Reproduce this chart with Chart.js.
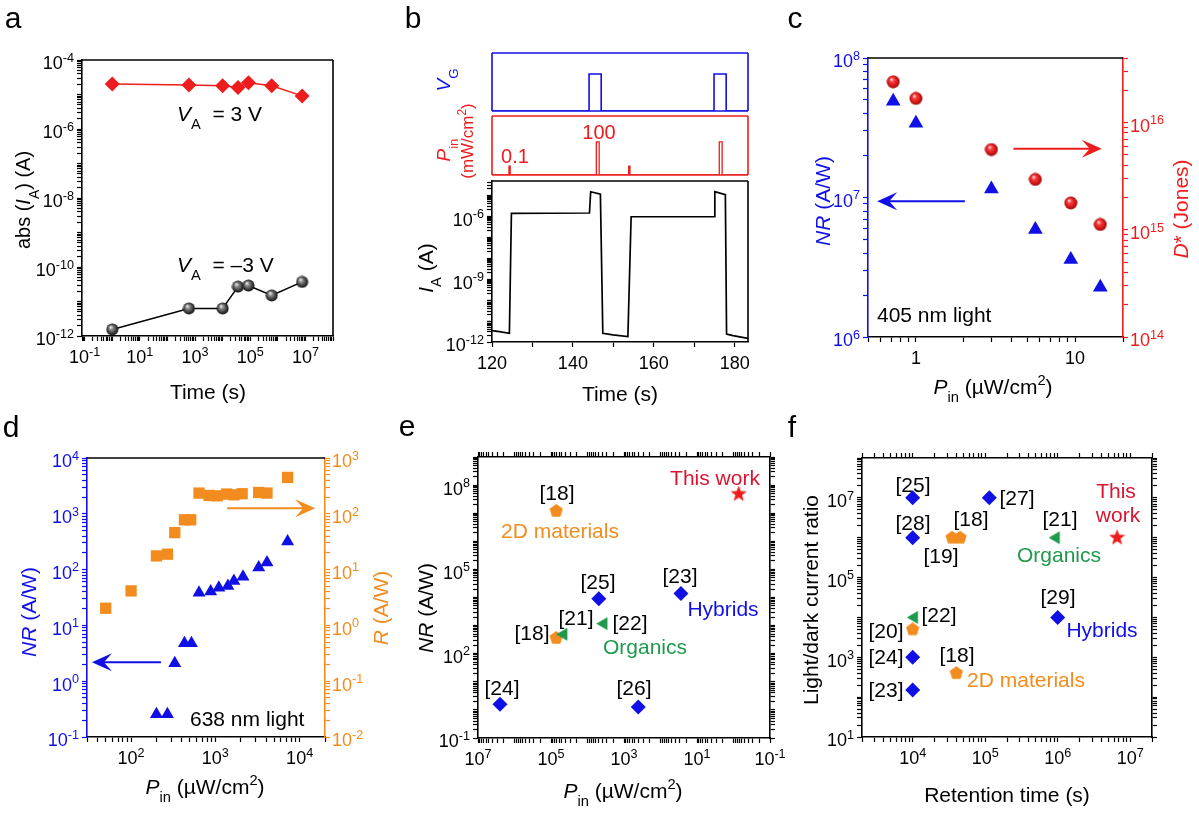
<!DOCTYPE html>
<html>
<head>
<meta charset="utf-8">
<title>Photomemory figure</title>
<script src="https://cdn.jsdelivr.net/npm/chart.js"></script>
<style>
  html, body { margin: 0; padding: 0; background: #fff; }
  #fig { position: relative; width: 1199px; height: 816px; overflow: hidden; background: #fff; }
  #fig canvas { position: absolute; }
</style>
</head>
<body>
<div id="fig"></div>
<script>
// ---- values ----
// a: retention of the on / off states
const retTime = [1, 600, 1e4, 3.6e4, 8.6e4, 6e5, 7.6e6];
const iOn = [2.0e-5, 1.9e-5, 1.8e-5, 1.6e-5, 2.2e-5, 1.8e-5, 9.1e-6];
const iOff = [1.55e-12, 6.3e-12, 6.3e-12, 2.7e-11, 2.9e-11, 1.5e-11, 3.7e-11];
const aXTicks = [0.1, 10, 1e3, 1e5, 1e7];
const aYTicks = [1e-12, 1e-10, 1e-8, 1e-6, 1e-4];

// b: gate pulses, light pulses and the anode current trace
const vgTime = [120, 144.0, 147.0, 174.9, 177.9, 183.3];
const vgLevel = [0, 1, 0, 1, 0, 0];
const pinTime = [120, 124.2, 124.5, 145.8, 146.5, 153.8, 154.1, 176.2, 176.9, 183.3];
const pinLevel = [0, 0.15, 0, 0.56, 0, 0.15, 0, 0.56, 0, 0];
const traceTime = [120, 121.8, 124.3, 124.8, 144.1, 144.4, 146.8, 147.4, 149.9, 153.6, 154.4, 174.9, 175.1, 177.7, 178.0, 179.6, 183.3];
const traceI = [3.5e-12, 3.1e-12, 2.6e-12, 1.35e-6, 1.4e-6, 1.45e-5, 1.1e-5, 2.6e-12, 2.2e-12, 1.8e-12, 9.3e-7, 9.5e-7, 1.45e-5, 1.05e-5, 2.4e-12, 2.0e-12, 1.5e-12];
const bXTicks = [120, 140, 160, 180];
const bYTicks = [1e-12, 1e-9, 1e-6];

// c: 405 nm light
const pinC = [0.72, 1.0, 2.98, 5.63, 9.4, 14.4];
const nrC = [4.9e7, 3.4e7, 1.15e7, 5.9e6, 3.6e6, 2.27e6];
const dStarC = [2.4e16, 1.68e16, 5.6e15, 2.95e15, 1.78e15, 1.12e15];
const cXTicks = [1, 10];
const cYTicks = [1e6, 1e7, 1e8];
const cY2Ticks = [1e14, 1e15, 1e16];

// d: 638 nm light
const pinDR = [50, 100, 200, 270, 330, 430, 510, 640, 840, 1050, 1360, 1660, 2080, 3270, 4100, 7200];
const rD = [2.03, 4.15, 17.6, 18.9, 46, 78, 78, 235, 213, 210, 226, 219, 229, 241, 235, 449];
const pinDNR = [200, 270, 330, 430, 520, 640, 880, 1100, 1410, 1660, 2130, 3270, 4100, 7200];
const nrD = [0.257, 0.257, 2.09, 4.77, 4.77, 38.6, 40.3, 47.5, 51, 62.7, 74.8, 109, 134, 318];
const dXTicks = [100, 1e3, 1e4];
const dYTicks = [0.1, 1, 10, 100, 1e3, 1e4];
const dY2Ticks = [0.01, 0.1, 1, 10, 100, 1e3];

// e: NR vs P_in comparison
const eHybP = [4.9e3, 27.5, 2.5e6, 407];
const eHybNR = [9.1e3, 1.4e4, 1.58, 1.26];
const e2dP = [7.2e4, 7.2e4];
const e2dNR = [1.2e7, 363];
const eOrgP = [4.5e4, 3.6e3];
const eOrgNR = [490, 1.17e3];
const eOursP = [0.72];
const eOursNR = [4.8e7];
const eXTicks = [1e7, 1e5, 1e3, 10, 0.1];
const eYTicks = [0.1, 100, 1e5, 1e8];

// f: on/off ratio vs retention comparison
const fHybT = [1e4, 1.14e5, 1e4, 1e6, 1e4, 1e4];
const fHybR = [1e7, 1e7, 1e6, 1e4, 1e3, 150];
const f2dT = [4.5e4, 3.5e4, 1e4, 4e4];
const f2dR = [1e6, 1e6, 5e3, 400];
const fOrgT = [9.5e5, 1.05e4];
const fOrgR = [1e6, 1e4];
const fOursT = [6.6e6];
const fOursR = [1e6];
const fXTicks = [1e4, 1e5, 1e6, 1e7];
const fYTicks = [10, 1e3, 1e5, 1e7];

// ---- styling ----
const FONT = '"Liberation Sans", Arial, Helvetica, sans-serif';
const BLUE = '#1010e6', RED = '#ee1c1c', CRIMSON = '#dc1430', ORANGE = '#f28c1e', GREEN = '#1f9a4c', BLACK = '#000000';
const fig = document.getElementById('fig');
const DECO = {};

const pts = (xs, ys) => xs.map((x, i) => ({ x, y: ys[i] }));

// text with italic / sub / sup runs; y is the centre of the capitals
function drawRich(ctx, t) {
  const S = t.size || 21;
  const parts = t.runs.map(r => Array.isArray(r) ? { s: r[0], f: r[1] } : { s: r, f: '' });
  const font = p => (p.f === 'it' ? 'italic ' : '') + ((p.f === 'sub' || p.f === 'sup') ? S * 0.7 : S) + 'px ' + FONT;
  ctx.save();
  ctx.translate(t.x, t.y);
  if (t.rot) ctx.rotate(t.rot * Math.PI / 180);
  let w = 0;
  parts.forEach(p => { ctx.font = font(p); p.w = ctx.measureText(p.s).width; w += p.w; });
  let x = t.align === 'left' ? 0 : t.align === 'right' ? -w : -w / 2;
  ctx.fillStyle = t.color || BLACK;
  ctx.textAlign = 'left';
  ctx.textBaseline = 'alphabetic';
  const base = S * 0.36;
  parts.forEach(p => {
    ctx.font = font(p);
    const dy = p.f === 'sub' ? S * 0.42 : p.f === 'sup' ? -S * 0.43 : 0;
    ctx.fillText(p.s, x, base + dy);
    x += p.w;
  });
  ctx.restore();
}

function drawArrow(ctx, x1, y1, x2, y2, col) {
  const ang = Math.atan2(y2 - y1, x2 - x1), L = 20, W = 9;
  ctx.save();
  ctx.strokeStyle = col; ctx.fillStyle = col; ctx.lineWidth = 2;
  ctx.beginPath();
  ctx.moveTo(x1, y1);
  ctx.lineTo(x2 - L * 0.5 * Math.cos(ang), y2 - L * 0.5 * Math.sin(ang));
  ctx.stroke();
  ctx.translate(x2, y2); ctx.rotate(ang);
  ctx.beginPath();
  ctx.moveTo(0, 0); ctx.lineTo(-L, -W); ctx.lineTo(-L * 0.6, 0); ctx.lineTo(-L, W);
  ctx.closePath(); ctx.fill();
  ctx.restore();
}

// small marker images for the shapes Chart.js has no built-in style for
function sprite(kind, color, size, dark) {
  const c = document.createElement('canvas');
  c.width = c.height = size;
  const g = c.getContext('2d');
  const r = size / 2;
  g.beginPath();
  if (kind === 'ball') {
    const grad = g.createRadialGradient(r * 0.72, r * 0.62, 0, r, r, r);
    grad.addColorStop(0, '#ffffff');
    grad.addColorStop(0.32, color);
    grad.addColorStop(1, dark);
    g.fillStyle = grad;
    g.arc(r, r, r - 0.5, 0, Math.PI * 2);
  } else {
    g.fillStyle = color;
    const n = kind === 'star' ? 10 : kind === 'pent' ? 5 : 3;
    for (let k = 0; k < n; k++) {
      let a, rr = r;
      if (kind === 'left') a = Math.PI + k * 2 * Math.PI / 3;
      else { a = -Math.PI / 2 + k * 2 * Math.PI / n; if (kind === 'star' && k % 2) rr = r * 0.42; }
      const px = r + rr * Math.cos(a), py = r + rr * Math.sin(a);
      if (k) g.lineTo(px, py); else g.moveTo(px, py);
    }
    g.closePath();
  }
  g.fill();
  return c;
}
const blackBall = sprite('ball', '#8a8a8a', 13, '#000000');
const redBall = sprite('ball', '#ff3a3a', 14, '#a00000');
const pent = sprite('pent', ORANGE, 14);
const star = sprite('star', RED, 17);
const leftTri = sprite('left', GREEN, 15);

function logTicks(min, max) {
  const out = [];
  for (let e = Math.floor(Math.log10(min)); e <= Math.ceil(Math.log10(max)); e++) {
    for (let m = 1; m <= 9; m++) {
      const v = m * Math.pow(10, e);
      if (v >= min * 0.9999 && v <= max * 1.0001) out.push({ value: v, major: m === 1 });
    }
  }
  return out;
}

function axis(type, position, min, max, color, opts = {}) {
  return {
    type, position, min, max, reverse: !!opts.reverse,
    afterBuildTicks: sc => {
      if (type === 'logarithmic') sc.ticks = logTicks(min, max);
      else { const t = []; for (let v = min; v <= max + 1e-9; v += opts.step) t.push({ value: v }); sc.ticks = t; }
    },
    ticks: { display: false },
    grid: { drawOnChartArea: false, drawTicks: true, tickLength: 5, tickColor: color, tickWidth: 1.2 },
    border: { display: true, color, width: 1.6 }
  };
}

const decoPlugin = {
  id: 'deco',
  afterDraw(chart) {
    const d = DECO[chart.canvas.id];
    if (!d) return;
    const ctx = chart.ctx, A = chart.chartArea;
    ctx.save();
    ctx.lineWidth = 1.6;
    Object.entries(d.frame || {}).forEach(([side, col]) => {
      ctx.strokeStyle = col;
      ctx.beginPath();
      if (side === 'top') { ctx.moveTo(A.left, A.top); ctx.lineTo(A.right, A.top); }
      if (side === 'bottom') { ctx.moveTo(A.left, A.bottom); ctx.lineTo(A.right, A.bottom); }
      if (side === 'left') { ctx.moveTo(A.left, A.top); ctx.lineTo(A.left, A.bottom); }
      if (side === 'right') { ctx.moveTo(A.right, A.top); ctx.lineTo(A.right, A.bottom); }
      ctx.stroke();
    });
    (d.labels || []).forEach(L => {
      const sc = chart.scales[L.axis];
      L.values.forEach(v => {
        const p = sc.getPixelForValue(v);
        const runs = L.pow ? ['10', [String(Math.round(Math.log10(v))), 'sup']] : [String(v)];
        const t = { runs, size: 18, color: L.color || BLACK };
        if (L.side === 'bottom') Object.assign(t, { x: p, y: A.bottom + 21 });
        else if (L.side === 'left') Object.assign(t, { x: A.left - 8, y: p + (L.pow ? 3 : 0), align: 'right' });
        else Object.assign(t, { x: A.right + 7, y: p + (L.pow ? 3 : 0), align: 'left' });
        drawRich(ctx, t);
      });
    });
    (d.arrows || []).forEach(ar => {
      const sx = chart.scales[ar.x], sy = chart.scales[ar.y];
      drawArrow(ctx, sx.getPixelForValue(ar.from[0]), sy.getPixelForValue(ar.from[1]),
        sx.getPixelForValue(ar.to[0]), sy.getPixelForValue(ar.to[1]), ar.color);
    });
    ctx.translate(-d.left, -d.top);
    (d.texts || []).forEach(t => drawRich(ctx, t));
    ctx.restore();
  }
};
Chart.register(decoPlugin);

// cv = [left, top, width, height] of the canvas, area = [l, t, r, b] of the plot box, both in page pixels
function panel(id, cv, area, scales, datasets, deco) {
  const canvas = document.createElement('canvas');
  canvas.id = id;
  canvas.width = cv[2]; canvas.height = cv[3];
  canvas.style.left = cv[0] + 'px'; canvas.style.top = cv[1] + 'px';
  fig.appendChild(canvas);
  const gap = { left: area[0] - cv[0], top: area[1] - cv[1], right: cv[0] + cv[2] - area[2], bottom: cv[1] + cv[3] - area[3] };
  const pad = Object.assign({}, gap);
  Object.values(scales).forEach(s => {
    if (s.display === false) return;
    const side = s.position, size = gap[side];
    pad[side] = 0;
    s.afterFit = sc => { if (side === 'top' || side === 'bottom') sc.height = size; else sc.width = size; };
  });
  DECO[id] = Object.assign({ left: cv[0], top: cv[1] }, deco);
  return new Chart(canvas, {
    type: 'scatter',
    data: { datasets },
    options: {
      responsive: false, animation: false, events: [],
      layout: { padding: pad },
      plugins: { legend: { display: false }, tooltip: { enabled: false } },
      scales
    }
  });
}

const mark = (xs, ys, style, color, radius, extra) => Object.assign({
  data: pts(xs, ys), showLine: false, pointStyle: style, pointRadius: radius,
  pointBackgroundColor: color, pointBorderColor: color, pointBorderWidth: 0
}, extra || {});
const note = ([text, x, y, color]) => ({ runs: [text], x, y, color: color || BLACK });
const pinTitle = (x, y) => ({ runs: [['P', 'it'], ['in', 'sub'], ' (\u00b5W/cm', ['2', 'sup'], ')'], x, y });

// ---- a ----
panel('pa', [0, 0, 400, 410], [82, 60, 333, 336], {
  x: axis('logarithmic', 'bottom', 0.08, 1e8, BLACK),
  y: axis('logarithmic', 'left', 1e-12, 1e-4, BLACK)
}, [
  { data: pts(retTime, iOn), showLine: true, borderColor: RED, borderWidth: 1.5, pointStyle: 'rectRot', pointRadius: 7.5, pointBackgroundColor: RED, pointBorderWidth: 0 },
  { data: pts(retTime, iOff), showLine: true, borderColor: BLACK, borderWidth: 1.5, pointStyle: blackBall, pointRadius: 6 }
], {
  frame: { top: BLACK, right: BLACK },
  labels: [
    { axis: 'x', side: 'bottom', values: aXTicks, pow: true },
    { axis: 'y', side: 'left', values: aYTicks, pow: true }
  ],
  texts: [
    { runs: ['a'], x: 13, y: 17, size: 30 },
    { runs: [['V', 'it'], ['A', 'sub'], '  = 3 V'], x: 177, y: 113, align: 'left' },
    { runs: [['V', 'it'], ['A', 'sub'], '  = \u20133 V'], x: 177, y: 264, align: 'left' },
    { runs: ['abs (', ['I', 'it'], ['A', 'sub'], ') (A)'], x: 23, y: 200, rot: -90, size: 20 },
    { runs: ['Time (s)'], x: 208, y: 391 }
  ]
});

// ---- b ----
panel('pb1', [400, 0, 380, 195], [492, 53, 748, 111], {
  x: { type: 'linear', min: 120, max: 183.3, display: false },
  y: { type: 'linear', min: 0, max: 1.57, display: false }
}, [
  { data: pts(vgTime, vgLevel), showLine: true, stepped: true, borderColor: BLUE, borderWidth: 1.6, pointRadius: 0 }
], {
  frame: { top: BLUE, right: BLUE, bottom: BLUE, left: BLUE },
  texts: [
    { runs: ['b'], x: 413, y: 17, size: 30 },
    { runs: [['V', 'it'], ['G', 'sub']], x: 443, y: 80, rot: -90, color: BLUE, size: 19 },
    { runs: [['P', 'it'], ['in', 'sub']], x: 443, y: 150, rot: -90, color: RED, size: 19 },
    { runs: ['(mW/cm', ['2', 'sup'], ')'], x: 467, y: 141, rot: -90, color: RED, size: 17 },
    { runs: ['100'], x: 599, y: 132, color: RED, size: 20 },
    { runs: ['0.1'], x: 515, y: 156, color: RED, size: 20 }
  ]
});
panel('pb2', [400, 100, 380, 80], [492, 116, 748, 175], {
  x: { type: 'linear', min: 120, max: 183.3, display: false },
  y: { type: 'linear', min: 0, max: 1, display: false }
}, [
  { data: pts(pinTime, pinLevel), showLine: true, stepped: true, borderColor: RED, borderWidth: 1.3, pointRadius: 0 }
], {
  frame: { top: RED, right: RED, bottom: RED, left: RED }
});
panel('pb3', [400, 178, 380, 232], [492, 181, 748, 342], {
  x: axis('linear', 'bottom', 120, 183.3, BLACK, { step: 10 }),
  y: axis('logarithmic', 'left', 1e-12, 4.7e-5, BLACK)
}, [
  { data: pts(traceTime, traceI), showLine: true, borderColor: BLACK, borderWidth: 1.7, pointRadius: 0 }
], {
  frame: { top: BLACK, right: BLACK },
  labels: [
    { axis: 'x', side: 'bottom', values: bXTicks },
    { axis: 'y', side: 'left', values: bYTicks, pow: true }
  ],
  texts: [
    { runs: [['I', 'it'], ['A', 'sub'], ' (A)'], x: 425, y: 268, rot: -90 },
    { runs: ['Time (s)'], x: 620, y: 393 }
  ]
});

// ---- c ----
panel('pc', [780, 0, 419, 410], [868, 58, 1123, 337], {
  x: axis('logarithmic', 'bottom', 0.5, 20, BLACK),
  y: axis('logarithmic', 'left', 1e6, 1e8, BLUE),
  y2: axis('logarithmic', 'right', 1e14, 4e16, RED)
}, [
  mark(pinC, nrC, 'triangle', BLUE, 8.5),
  mark(pinC, dStarC, redBall, RED, 7, { yAxisID: 'y2' })
], {
  frame: { top: BLACK },
  labels: [
    { axis: 'x', side: 'bottom', values: cXTicks },
    { axis: 'y', side: 'left', values: cYTicks, pow: true, color: BLUE },
    { axis: 'y2', side: 'right', values: cY2Ticks, pow: true, color: RED }
  ],
  arrows: [
    { x: 'x', y: 'y', from: [2.03, 9.4e6], to: [0.571, 9.4e6], color: BLUE },
    { x: 'x', y: 'y2', from: [4.1, 5.7e15], to: [14.7, 5.7e15], color: RED }
  ],
  texts: [
    { runs: ['c'], x: 795, y: 17, size: 30 },
    { runs: [['NR', 'it'], ' (A/W)'], x: 822, y: 201, rot: -90, color: BLUE },
    { runs: [['D', 'it'], '* (Jones)'], x: 1180, y: 209, rot: -90, color: RED },
    { runs: ['405 nm light'], x: 877, y: 314, align: 'left' },
    pinTitle(993, 386)
  ]
});

// ---- d ----
panel('pd', [0, 410, 400, 406], [87, 458, 325, 737], {
  x: axis('logarithmic', 'bottom', 30, 2e4, BLACK),
  y: axis('logarithmic', 'left', 0.1, 1e4, BLUE),
  y2: axis('logarithmic', 'right', 0.01, 1e3, ORANGE)
}, [
  mark(pinDR, rD, 'rect', ORANGE, 8, { yAxisID: 'y2' }),
  mark(pinDNR, nrD, 'triangle', BLUE, 7.5)
], {
  frame: { top: BLACK },
  labels: [
    { axis: 'x', side: 'bottom', values: dXTicks, pow: true },
    { axis: 'y', side: 'left', values: dYTicks, pow: true, color: BLUE },
    { axis: 'y2', side: 'right', values: dY2Ticks, pow: true, color: ORANGE }
  ],
  arrows: [
    { x: 'x', y: 'y', from: [226, 2.18], to: [34.3, 2.18], color: BLUE },
    { x: 'x', y: 'y2', from: [1380, 126], to: [15300, 126], color: ORANGE }
  ],
  texts: [
    { runs: ['d'], x: 11, y: 426, size: 30 },
    { runs: [['NR', 'it'], ' (A/W)'], x: 28, y: 612, rot: -90, color: BLUE },
    { runs: [['R', 'it'], ' (A/W)'], x: 380, y: 608, rot: -90, color: ORANGE },
    { runs: ['638 nm light'], x: 190, y: 718, align: 'left' },
    pinTitle(205, 786)
  ]
});

// ---- e ----
const eNotes = [['This work', 715, 477, CRIMSON], ['[18]', 557, 492], ['2D materials', 560, 530, ORANGE],
  ['[25]', 598, 581], ['[23]', 680, 575], ['Hybrids', 723, 608, BLUE], ['[21]', 576, 617], ['[22]', 630, 622],
  ['[18]', 532, 632], ['Organics', 645, 646, GREEN], ['[24]', 502, 687], ['[26]', 634, 687]];
panel('pe', [400, 410, 385, 406], [478, 457, 770, 738], {
  x: axis('logarithmic', 'bottom', 0.1, 1e7, BLACK, { reverse: true }),
  y: axis('logarithmic', 'left', 0.1, 1e9, BLACK),
  x2: axis('logarithmic', 'top', 0.1, 1e7, BLACK, { reverse: true }),
  y2: axis('logarithmic', 'right', 0.1, 1e9, BLACK)
}, [
  mark(eOrgP, eOrgNR, leftTri, GREEN, 7),
  mark(e2dP, e2dNR, pent, ORANGE, 7),
  mark(eHybP, eHybNR, 'rectRot', BLUE, 7.5),
  mark(eOursP, eOursNR, star, RED, 8)
], {
  labels: [
    { axis: 'x', side: 'bottom', values: eXTicks, pow: true },
    { axis: 'y', side: 'left', values: eYTicks, pow: true }
  ],
  texts: [
    { runs: ['e'], x: 407, y: 425, size: 30 },
    { runs: [['NR', 'it'], ' (A/W)'], x: 425, y: 608, rot: -90 },
    pinTitle(623, 790)
  ].concat(eNotes.map(note))
});

// ---- f ----
const fNotes = [['[25]', 913, 484], ['[27]', 1017, 497], ['This', 1116, 490, CRIMSON], ['work', 1118, 514, CRIMSON],
  ['[28]', 913, 522], ['[18]', 971, 518], ['[21]', 1060, 518], ['[19]', 941, 555], ['Organics', 1059, 554, GREEN],
  ['[29]', 1058, 596], ['[22]', 939, 614], ['Hybrids', 1102, 629, BLUE], ['[20]', 886, 630], ['[24]', 886, 656],
  ['[18]', 957, 654], ['2D materials', 1026, 679, ORANGE], ['[23]', 886, 689]];
panel('pf', [785, 410, 414, 406], [862, 458, 1152, 737], {
  x: axis('logarithmic', 'bottom', 2e3, 2e7, BLACK),
  y: axis('logarithmic', 'left', 10, 1e8, BLACK),
  x2: axis('logarithmic', 'top', 2e3, 2e7, BLACK),
  y2: axis('logarithmic', 'right', 10, 1e8, BLACK)
}, [
  mark(fOrgT, fOrgR, leftTri, GREEN, 7),
  mark(f2dT, f2dR, pent, ORANGE, 7),
  mark(fHybT, fHybR, 'rectRot', BLUE, 7.5),
  mark(fOursT, fOursR, star, RED, 8)
], {
  labels: [
    { axis: 'x', side: 'bottom', values: fXTicks, pow: true },
    { axis: 'y', side: 'left', values: fYTicks, pow: true }
  ],
  texts: [
    { runs: ['f'], x: 792, y: 426, size: 30 },
    { runs: ['Light/dark current ratio'], x: 810, y: 600, rot: -90 },
    { runs: ['Retention time (s)'], x: 1007, y: 794 }
  ].concat(fNotes.map(note))
});
</script>
</body>
</html>
